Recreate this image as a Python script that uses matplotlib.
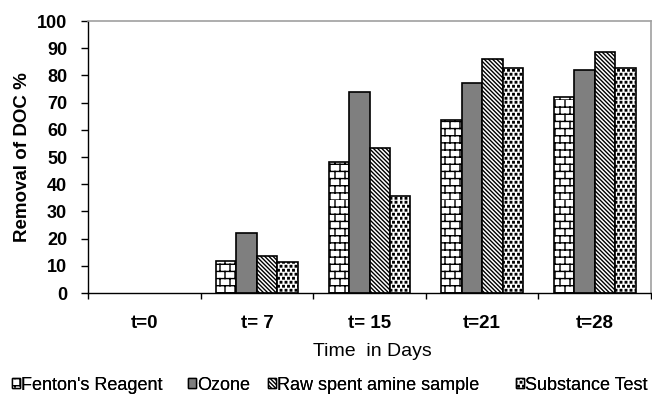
import warnings
import numpy as np
import matplotlib
matplotlib.use("Agg")
import matplotlib.pyplot as plt
from matplotlib import hatch as mhatch
from matplotlib.path import Path
from matplotlib.patches import Patch

warnings.filterwarnings("ignore")

plt.rcParams["font.family"] = "Liberation Sans"
plt.rcParams["hatch.linewidth"] = 1.0

# data
days = ["t=0", "t= 7", "t= 15", "t=21", "t=28"]
fenton = [0, 11.8, 48.2, 63.5, 72.1]
ozone = [0, 22.2, 73.8, 77.3, 82.0]
raw_amine = [0, 13.5, 53.2, 86.2, 88.5]
substance = [0, 11.4, 35.8, 82.9, 82.9]
series_names = ["Fenton's Reagent", "Ozone", "Raw spent amine sample", "Substance Test"]


# brick pattern, 'b' in the hatch string
class Bricks(mhatch.HatchPatternBase):
    def __init__(self, hatch, density):
        n = hatch.count("b")
        self.rows = 14 * n
        self.cols = 10 * n
        self.num_vertices = (self.rows + self.rows * self.cols) * 2

    def set_vertices_and_codes(self, vertices, codes):
        v = []
        for i in range(self.rows):
            y0 = i / self.rows
            y1 = (i + 1) / self.rows
            v += [(0, y0), (1, y0)]
            off = 0.5 / self.cols if i % 2 else 0.0
            for j in range(self.cols):
                x = j / self.cols + off
                v += [(x, y0), (x, y1)]
        vertices[:] = np.array(v)
        codes[:] = [Path.MOVETO, Path.LINETO] * (len(v) // 2)


# staggered little black squares, 'q' in the hatch string
class SquareDots(mhatch.HatchPatternBase):
    def __init__(self, hatch, density):
        n = hatch.count("q")
        self.rows = 25 * n
        self.cols = 20 * n
        self.num_vertices = self.rows * self.cols * 5

    def set_vertices_and_codes(self, vertices, codes):
        v = []
        s = 0.3 / self.cols
        for i in range(self.rows):
            y = (i + 0.25) / self.rows
            off = 0.55 if i % 2 else 0.05
            for j in range(self.cols):
                x = (j + off) / self.cols
                v += [(x, y), (x + s, y), (x + s, y + s), (x, y + s), (x, y)]
        vertices[:] = np.array(v)
        codes[:] = [Path.MOVETO, Path.LINETO, Path.LINETO, Path.LINETO,
                    Path.CLOSEPOLY] * (len(v) // 5)


mhatch._hatch_types.append(Bricks)
mhatch._hatch_types.append(SquareDots)

fig = plt.figure(figsize=(6.52, 3.97), dpi=100)
ax = fig.add_axes([88 / 652, 1 - 293 / 397, 563 / 652, 272 / 397])

x = np.arange(len(days))
w = 0.182
styles = [
    dict(facecolor="white", hatch="b"),
    dict(facecolor="#7f7f7f", hatch=None),
    dict(facecolor="white", hatch="\\" * 8),
    dict(facecolor="white", hatch="q"),
]
handles = []
for k, vals in enumerate([fenton, ozone, raw_amine, substance]):
    b = ax.bar(x + (k - 1.5) * w, vals, w, edgecolor="black", linewidth=1.2,
               **styles[k])
    for p in b.patches:
        if p.get_height() == 0:
            p.set_visible(False)
    handles.append(Patch(edgecolor="black", linewidth=1.0,
                         label=series_names[k], **styles[k]))

ax.set_xlim(-0.5, len(days) - 0.5)
ax.set_ylim(0, 100)
ax.set_yticks(np.arange(0, 101, 10))
ax.set_xticks(x)
ax.set_xticklabels(days, fontsize=13.5, fontweight="bold")
ax.set_xticks(np.arange(-0.5, len(days), 1), minor=True)
ax.tick_params(axis="x", which="major", length=0, pad=16)
ax.tick_params(axis="x", which="minor", length=4, width=1, direction="out")
ax.tick_params(axis="y", length=5, width=1, direction="out", pad=10)
for lab in ax.get_yticklabels():
    lab.set_fontsize(13)
    lab.set_fontweight("bold")

for s in ["top", "right"]:
    ax.spines[s].set_color("#a0a0a0")
    ax.spines[s].set_linewidth(1.2)
for s in ["left", "bottom"]:
    ax.spines[s].set_color("black")
    ax.spines[s].set_linewidth(1.0)

ax.set_ylabel("Removal of DOC %", fontsize=13.5, fontweight="bold")
ax.yaxis.set_label_coords((31 - 88) / 563, 0.5)
fig.text(372 / 652, 1 - 351 / 397, "Time  in Days", fontsize=14,
         ha="center", va="center")

# legend entries sit at uneven spots along the bottom
leg_x = [12, 188, 268, 516]
for k in range(4):
    lg = fig.legend(handles=[handles[k]], loc="center left",
                    bbox_to_anchor=(leg_x[k] / 652, 1 - 385 / 397),
                    frameon=False, fontsize=13, handlelength=0.42,
                    handleheight=0.42, handletextpad=0.1, borderpad=0,
                    borderaxespad=0)
    fig.add_artist(lg)

fig.savefig("out.png", dpi=100)
